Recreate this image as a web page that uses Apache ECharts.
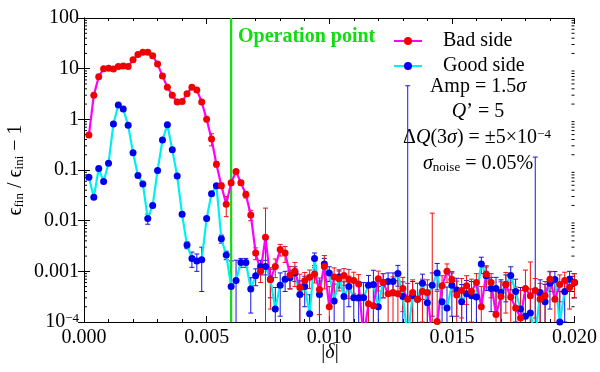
<!DOCTYPE html>
<html>
<head>
<meta charset="utf-8">
<script src="https://cdn.jsdelivr.net/npm/echarts@6/dist/echarts.min.js"></script>
<style>
  html, body { margin: 0; padding: 0; background: #fff; }
  #chart { width: 600px; height: 372px; }
</style>
</head>
<body>
<div id="chart"></div>
<script>
// |delta| sample points
const delta = [
  0.0002, 0.0004, 0.0006, 0.0008, 0.0010, 0.0012, 0.0014, 0.0016, 0.0018, 0.0020,
  0.0022, 0.0024, 0.0026, 0.0028, 0.0030, 0.0032, 0.0034, 0.0036, 0.0038, 0.0040,
  0.0042, 0.0044, 0.0046, 0.0048, 0.0050, 0.0052, 0.0054, 0.0056, 0.0058, 0.0060,
  0.0062, 0.0064, 0.0066, 0.0068, 0.0070, 0.0072, 0.0074, 0.0076, 0.0078, 0.0080,
  0.0082, 0.0084, 0.0086, 0.0088, 0.0090, 0.0092, 0.0094, 0.0096, 0.0098, 0.0100,
  0.0102, 0.0104, 0.0106, 0.0108, 0.0110, 0.0112, 0.0114, 0.0116, 0.0118, 0.0120,
  0.0122, 0.0124, 0.0126, 0.0128, 0.0130, 0.0132, 0.0134, 0.0136, 0.0138, 0.0140,
  0.0142, 0.0144, 0.0146, 0.0148, 0.0150, 0.0152, 0.0154, 0.0156, 0.0158, 0.0160,
  0.0162, 0.0164, 0.0166, 0.0168, 0.0170, 0.0172, 0.0174, 0.0176, 0.0178, 0.0180,
  0.0182, 0.0184, 0.0186, 0.0188, 0.0190, 0.0192, 0.0194, 0.0196, 0.0198, 0.0200
];

const badSide = [
  0.49, 3.0, 6.9, 10, 10.2, 9.8, 11, 11.3, 11, 15,
  19, 21, 21, 18, 12.3, 7.2, 4.3, 3.0, 2.2, 2.25,
  3.2, 4.3, 3.8, 2.2, 1.0, 0.41, 0.13, 0.049, 0.021, 0.056,
  0.093, 0.056, 0.033, 0.013, 0.0023, 0.001, 0.0047, 0.00068, 0.00125, 0.0027,
  0.0023, 0.00085, 0.001, 0.00048, 0.00065, 0.00076, 0.00089, 0.00044, 0.00125, 0.0002,
  0.00077, 0.00071, 0.00083, 0.00069, 0.00066, 0.00056, 0.00005, 0.00023, 0.00021, 0.00071,
  0.0006, 0.00036, 0.00038, 0.00036, 0.00046, 0.00028, 0.00038, 0.00028, 0.0004, 0.00038,
  0.00005, 0.000102, 0.00052, 0.001, 0.00069, 0.00034, 0.00042, 0.00052, 0.0004, 0.0006,
  0.0002, 0.00089, 0.0006, 0.00014, 0.00032, 0.00055, 0.00031, 0.00019, 0.00012, 0.00046,
  0.00033, 0.00042, 0.00028, 0.00033, 0.0007, 0.00028, 0.00055, 0.00066, 0.00048, 0.0006
];
const badErr = [
  0.02, 0.1, 0.2, 0.3, 0.3, 0.3, 0.3, 0.3, 0.3, 0.4,
  0.5, 0.5, 0.5, 0.5, 0.4, 0.2, 0.1, 0.1, 0.08, 0.08,
  0.1, 0.15, 0.15, 0.1, 0.06, 0.11, 0.015, 0.006, 0.009, 0.006,
  0.008, 0.006, 0.005, 0.003, 0.0006, 0.0004, 0.013, 0.0005, 0.0005, 0.0007,
  0.0008, 0.0004, 0.0005, 0.0004, 0.0003, 0.0003, 0.0003, 0.0003, 0.0008, 0.0003,
  0.0004, 0.0003, 0.0003, 0.0004, 0.0003, 0.0003, 0.0003, 0.0003, 0.0003, 0.0003,
  0.0003, 0.0003, 0.0004, 0.0003, 0.0003, 0.0003, 0.0003, 0.0003, 0.0003, 0.0003,
  0.014, 0.0003, 0.0003, 0.0004, 0.0003, 0.0003, 0.0003, 0.0003, 0.0003, 0.0003,
  0.0003, 0.0004, 0.0003, 0.0003, 0.0003, 0.0004, 0.0003, 0.0003, 0.0003, 0.0006,
  0.0012, 0.0003, 0.0003, 0.0003, 0.0003, 0.0003, 0.0003, 0.0003, 0.0003, 0.0003
];

const goodSide = [
  0.072, 0.029, 0.107, 0.059, 0.136, 0.81, 1.92, 1.6, 0.76, 0.22,
  0.078, 0.053, 0.011, 0.02, 0.098, 0.39, 0.78, 0.25, 0.076, 0.0134,
  0.0033, 0.0018, 0.0016, 0.0017, 0.011, 0.034, 0.049, 0.0044, 0.0021, 0.0005,
  0.00066, 0.0015, 0.0015, 0.00045, 0.00082, 0.00125, 0.00125, 0.0007, 0.00018, 0.00053,
  0.0007, 0.00075, 0.00093, 0.00035, 0.0005, 0.000145, 0.0018, 0.00035, 0.0014, 0.00093,
  0.00026, 0.00077, 0.00032, 0.0005, 0.0003, 0.0003, 0.0003, 0.00053, 0.00055, 0.0002,
  0.0006, 0.00063, 0.00063, 0.00091, 0.00032, 0.00005, 0.00033, 0.00028, 0.00058, 0.00024,
  0.00053, 0.00093, 0.00025, 0.00019, 0.00053, 0.00043, 0.00025, 0.00036, 0.00033, 0.00031,
  0.0014, 0.00082, 0.00046, 0.00046, 0.00038, 0.00055, 0.00083, 0.0004, 0.00018, 0.00013,
  0.00015, 0.00005, 0.00038, 0.00025, 0.00058, 0.00069, 0.0001, 0.0004, 0.0007, 0.0006
];
const goodErr = [
  0.003, 0.002, 0.005, 0.003, 0.006, 0.03, 0.06, 0.05, 0.03, 0.01,
  0.004, 0.003, 0.0025, 0.002, 0.004, 0.015, 0.03, 0.01, 0.004, 0.0012,
  0.0005, 0.0006, 0.0006, 0.0013, 0.001, 0.003, 0.003, 0.0008, 0.0004, 0.0011,
  0.001, 0.0003, 0.0003, 0.0003, 0.0003, 0.0004, 0.0004, 0.0004, 0.0003, 0.0004,
  0.0003, 0.0003, 0.0003, 0.0003, 0.0003, 0.0002, 0.0005, 0.0003, 0.0004, 0.0003,
  0.0003, 0.0003, 0.0003, 0.0003, 0.0003, 0.0003, 0.0003, 0.0003, 0.0005, 0.0003,
  0.0003, 0.0003, 0.0003, 0.0004, 0.0003, 4.6, 0.0003, 0.0003, 0.0003, 0.0003,
  0.0004, 0.0005, 0.0003, 0.0003, 0.0004, 0.0003, 0.0003, 0.0003, 0.0003, 0.0003,
  0.0005, 0.0004, 0.0003, 0.0003, 0.0003, 0.0003, 0.0004, 0.0003, 0.0003, 0.0003,
  0.0003, 0.18, 0.0003, 0.0003, 0.0004, 0.0003, 0.0003, 0.0003, 0.0003, 0.0003
];

const xTickLabels = ['0.000', '0.005', '0.010', '0.015', '0.020'];
const yDecades = [0.0001, 0.001, 0.01, 0.1, 1, 10, 100];
const yTickLabels = ['{b|10}{sup|−4}', '0.001', '0.01', '0.1', '1', '10', '100'];
const operationPoint = 0.006;

const FONT = 'Liberation Serif';
const FS = 20;
const chart = echarts.init(document.getElementById('chart'));

function errBars(name, vals, errs, color) {
  const data = delta.map((x, i) => [x, vals[i], vals[i] - errs[i], vals[i] + errs[i]]);
  return {
    type: 'custom',
    name: name,
    data: data,
    silent: true,
    encode: { x: 0, y: 1 },
    renderItem: function (params, api) {
      const cs = params.coordSys;
      const top = cs.y, bottom = cs.y + cs.height;
      const x = api.value(0), lo = api.value(2), hi = api.value(3);
      const px = api.coord([x, hi])[0];
      let yHi = api.coord([x, hi])[1];
      let yLo = lo > 0 ? api.coord([x, lo])[1] : bottom + 5;
      const children = [];
      const capHi = yHi >= top, capLo = yLo <= bottom;
      yHi = Math.max(yHi, top);
      yLo = Math.min(yLo, bottom);
      if (yHi >= bottom) return null;
      const st = { stroke: color, lineWidth: 1 };
      children.push({ type: 'line', shape: { x1: px, y1: yHi, x2: px, y2: yLo }, style: st });
      if (capHi) children.push({ type: 'line', shape: { x1: px - 2.5, y1: yHi, x2: px + 2.5, y2: yHi }, style: st });
      if (capLo) children.push({ type: 'line', shape: { x1: px - 2.5, y1: yLo, x2: px + 2.5, y2: yLo }, style: st });
      return { type: 'group', children: children };
    }
  };
}

// minor ticks of the log axis at 2..9 x 10^k (left and right frame)
const logMinor = [];
for (let i = 0; i < yDecades.length - 1; i++) {
  for (let k = 2; k <= 9; k++) logMinor.push([0.01, k * yDecades[i]]);
}

const axisLine = { show: true, lineStyle: { color: '#000', width: 1 } };
const xBase = {
  type: 'value', min: 0, max: 0.02, interval: 0.005,
  axisLine: axisLine,
  axisTick: { show: true, inside: true, length: 6, lineStyle: { color: '#000' } },
  minorTick: { show: true, splitNumber: 5, length: 3, lineStyle: { color: '#000' } },
  splitLine: { show: false }
};
const yBase = {
  type: 'log', logBase: 10, min: 0.0001, max: 100, splitNumber: 6,
  axisLine: axisLine,
  axisTick: { show: true, inside: true, length: 6, lineStyle: { color: '#000' } },
  splitLine: { show: false }
};

function txt(n) { return { fontFamily: FONT, fontSize: n, fill: '#000' }; }
function ital(n) { return { fontFamily: FONT, fontSize: n, fontStyle: 'italic', fill: '#000' }; }

chart.setOption({
  animation: false,
  backgroundColor: '#fff',
  grid: { left: 84, right: 23, top: 18, bottom: 50 },
  xAxis: [
    Object.assign({}, xBase, {
      position: 'bottom',
      axisLabel: {
        fontFamily: FONT, fontSize: FS, color: '#000', margin: 6,
        formatter: function (v) { return xTickLabels[Math.round(v / 0.005)]; }
      }
    }),
    Object.assign({}, xBase, { position: 'top', axisLabel: { show: false } })
  ],
  yAxis: [
    Object.assign({}, yBase, {
      position: 'left',
      axisLabel: {
        fontFamily: FONT, fontSize: FS, color: '#000', margin: 5,
        formatter: function (v) {
          const i = Math.round(Math.log10(v)) + 4;
          return yTickLabels[i];
        },
        rich: {
          b: { fontFamily: FONT, fontSize: FS, color: '#000', verticalAlign: 'bottom' },
          sup: { fontFamily: FONT, fontSize: 13, color: '#000', verticalAlign: 'top', padding: [0, 0, 7, 0] }
        }
      }
    }),
    Object.assign({}, yBase, { position: 'right', axisLabel: { show: false } })
  ],
  legend: {
    orient: 'vertical', left: 388, top: 25, itemGap: 3,
    itemWidth: 28, itemHeight: 10,
    data: ['Bad side', 'Good side'],
    textStyle: { fontFamily: FONT, fontSize: FS, color: '#000', lineHeight: 22, padding: [0, 0, 0, 16] }
  },
  series: [
    {
      type: 'line', name: 'Operation point', silent: true,
      data: [[operationPoint, 0.0001], [operationPoint, 100]],
      symbol: 'none', lineStyle: { color: '#10dd10', width: 2.2 }
    },
    {
      type: 'custom', name: 'minor', silent: true, data: logMinor,
      encode: { x: 0, y: 1 },
      renderItem: function (params, api) {
        const cs = params.coordSys;
        const y = api.coord([api.value(0), api.value(1)])[1];
        const st = { stroke: '#000', lineWidth: 1 };
        return {
          type: 'group', children: [
            { type: 'line', shape: { x1: cs.x, y1: y, x2: cs.x + 3, y2: y }, style: st },
            { type: 'line', shape: { x1: cs.x + cs.width - 3, y1: y, x2: cs.x + cs.width, y2: y }, style: st }
          ]
        };
      }
    },
    errBars('Good err', goodSide, goodErr, '#1414e6'),
    {
      type: 'line', name: 'Good side',
      data: delta.map((x, i) => [x, goodSide[i]]),
      symbol: 'circle', symbolSize: 7, clip: true,
      lineStyle: { color: '#00f0f0', width: 2.2 },
      itemStyle: { color: '#0000f0' }
    },
    errBars('Bad err', badSide, badErr, '#f01010'),
    {
      type: 'line', name: 'Bad side',
      data: delta.map((x, i) => [x, badSide[i]]),
      symbol: 'circle', symbolSize: 7, clip: true,
      lineStyle: { color: '#ff00ff', width: 2.2 },
      itemStyle: { color: '#f00000' }
    }
  ],
  graphic: [
    {
      type: 'text', left: 238, top: 27,
      style: { text: 'Operation point', font: 'bold 20px "Liberation Serif"', fill: '#10dd10' }
    },
    {
      type: 'text', x: 478, y: 87,
      style: {
        text: '{n|Amp = 1.5}{i|σ}', align: 'center', verticalAlign: 'middle',
        rich: { n: txt(FS), i: ital(FS) }
      }
    },
    {
      type: 'text', x: 478, y: 112,
      style: {
        text: '{i|Q}{n|’ = 5}', align: 'center', verticalAlign: 'middle',
        rich: { n: txt(FS), i: ital(FS) }
      }
    },
    {
      type: 'text', x: 477, y: 138,
      style: {
        text: '{n|Δ}{i|Q}{n|(3}{i|σ}{n|) = ±5×10}{s|−4}', align: 'center', verticalAlign: 'middle',
        rich: {
          n: Object.assign(txt(FS), { verticalAlign: 'bottom' }),
          i: Object.assign(ital(FS), { verticalAlign: 'bottom' }),
          s: Object.assign(txt(13), { verticalAlign: 'top', padding: [0, 0, 7, 0] })
        }
      }
    },
    {
      type: 'text', x: 478, y: 164,
      style: {
        text: '{i|σ}{s|noise}{n| = 0.05%}', align: 'center', verticalAlign: 'middle',
        rich: {
          n: Object.assign(txt(FS), { verticalAlign: 'top' }),
          i: Object.assign(ital(FS), { verticalAlign: 'top' }),
          s: Object.assign(txt(13), { verticalAlign: 'bottom', padding: [7, 0, 0, 0] })
        }
      }
    },
    {
      type: 'text', x: 330, y: 353,
      style: {
        text: '{n||}{i|δ}{n||}', align: 'center', verticalAlign: 'middle',
        rich: { n: txt(FS), i: ital(FS) }
      }
    },
    {
      type: 'text', x: 16, y: 170, rotation: Math.PI / 2,
      style: {
        text: '{n|ϵ}{s|fin}{n| / ϵ}{s|ini}{n| − 1}', align: 'center', verticalAlign: 'middle',
        rich: {
          n: Object.assign(txt(FS), { verticalAlign: 'top' }),
          s: Object.assign(txt(13), { verticalAlign: 'bottom', padding: [7, 0, 0, 0] })
        }
      }
    }
  ]
});
</script>
</body>
</html>
